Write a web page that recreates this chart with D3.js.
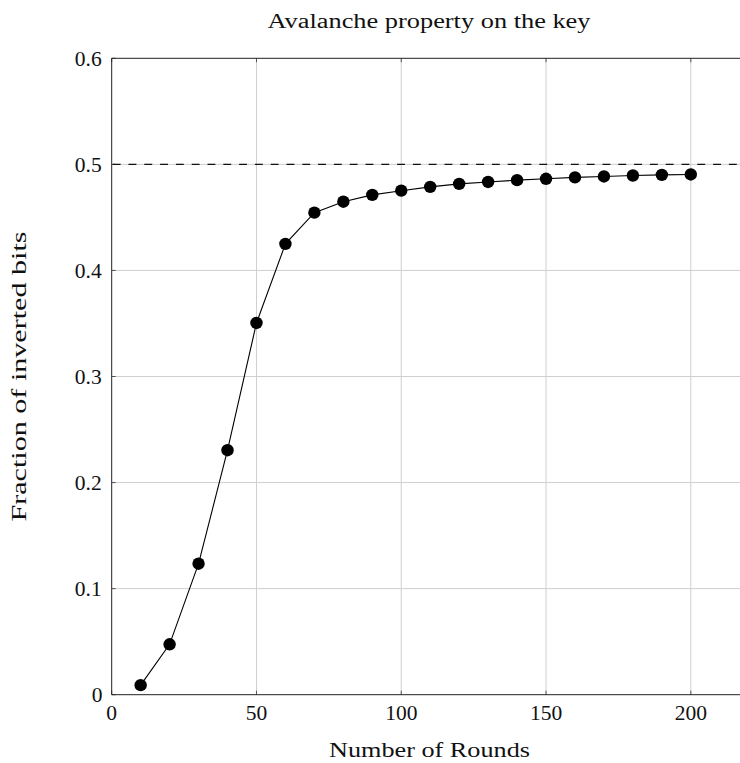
<!DOCTYPE html>
<html>
<head>
<meta charset="utf-8">
<script src="https://cdn.jsdelivr.net/npm/d3@7"></script>
<style>
  html, body { margin: 0; padding: 0; background: #fff; }
  svg { display: block; }
  text { font-family: "Liberation Serif", "DejaVu Serif", serif; fill: #111; }
</style>
</head>
<body>
<svg id="chart" width="740" height="763"></svg>
<script>
// Data
const rounds = [10, 20, 30, 40, 50, 60, 70, 80, 90, 100, 110, 120, 130, 140, 150, 160, 170, 180, 190, 200];
const fraction = [0.009, 0.0475, 0.1235, 0.2305, 0.3505, 0.425, 0.4545, 0.4648, 0.4712, 0.4752, 0.4788, 0.4816, 0.4834, 0.4851, 0.4864, 0.4877, 0.4886, 0.4895, 0.4901, 0.4905];
const xTicks = [0, 50, 100, 150, 200];
const yTicks = [0, 0.1, 0.2, 0.3, 0.4, 0.5, 0.6];
const refValue = 0.5;
const titleText = "Avalanche property on the key";
const xLabelText = "Number of Rounds";
const yLabelText = "Fraction of inverted bits";

(function () {
const svg = d3.select("#chart");
const pLeft = 111.7, pTop = 58.3, pBottom = 694.7;
const x = d3.scaleLinear().domain([0, 220]).range([pLeft, pLeft + 220 * 2.8955]);
const y = d3.scaleLinear().domain([0, 0.6]).range([pBottom, pTop]);
const pRight = x(220);

// grid
const grid = svg.append("g");
grid.selectAll("line.gx").data(xTicks.filter(d => d > 0)).enter().append("line")
  .attr("x1", d => x(d)).attr("x2", d => x(d)).attr("y1", pTop).attr("y2", pBottom)
  .attr("stroke", "#cfcfcf").attr("stroke-width", 1);
grid.selectAll("line.gy").data(yTicks.filter(d => d > 0 && d < 0.6)).enter().append("line")
  .attr("x1", pLeft).attr("x2", pRight).attr("y1", d => y(d)).attr("y2", d => y(d))
  .attr("stroke", "#cfcfcf").attr("stroke-width", 1);

// tick marks (inward, both sides)
const tk = svg.append("g").attr("stroke", "#555").attr("stroke-width", 1);
xTicks.forEach(d => {
  tk.append("line").attr("x1", x(d)).attr("x2", x(d)).attr("y1", pBottom).attr("y2", pBottom - 4);
  tk.append("line").attr("x1", x(d)).attr("x2", x(d)).attr("y1", pTop).attr("y2", pTop + 4);
});
yTicks.forEach(d => {
  tk.append("line").attr("x1", pLeft).attr("x2", pLeft + 4).attr("y1", y(d)).attr("y2", y(d));
});

// reference dashed line
svg.append("line")
  .attr("x1", pLeft).attr("x2", pRight).attr("y1", y(refValue)).attr("y2", y(refValue))
  .attr("stroke", "#111").attr("stroke-width", 1.1)
  .attr("stroke-dasharray", "7.9,7.9").attr("stroke-dashoffset", -1);

// axis frame
svg.append("line").attr("x1", pLeft).attr("x2", pRight).attr("y1", pTop).attr("y2", pTop)
  .attr("stroke", "#222").attr("stroke-width", 1);
svg.append("line").attr("x1", pLeft).attr("x2", pRight).attr("y1", pBottom).attr("y2", pBottom)
  .attr("stroke", "#222").attr("stroke-width", 1);
svg.append("line").attr("x1", pLeft).attr("x2", pLeft).attr("y1", pTop).attr("y2", pBottom)
  .attr("stroke", "#222").attr("stroke-width", 1);

// tick labels
svg.selectAll("text.xt").data(xTicks).enter().append("text")
  .attr("x", d => x(d)).attr("y", 719.5)
  .attr("text-anchor", "middle").attr("font-size", 21.5)
  .text(d => d);
svg.selectAll("text.yt").data(yTicks).enter().append("text")
  .attr("x", d => d === 0 ? 102.5 : 101.7).attr("y", d => y(d) + 7.5)
  .attr("text-anchor", "end").attr("font-size", 21.5)
  .text(d => d === 0 ? "0" : d.toFixed(1));

// series
const pts = rounds.map((r, i) => [r, fraction[i]]);
svg.append("path").datum(pts)
  .attr("fill", "none").attr("stroke", "#000").attr("stroke-width", 1.1)
  .attr("d", d3.line().x(d => x(d[0])).y(d => y(d[1])));
svg.selectAll("circle.pt").data(pts).enter().append("circle")
  .attr("cx", d => x(d[0])).attr("cy", d => y(d[1])).attr("r", 6.2)
  .attr("fill", "#000");

// titles
svg.append("text").attr("x", 429).attr("y", 27.5).attr("text-anchor", "middle")
  .attr("font-size", 20).attr("textLength", 323).attr("lengthAdjust", "spacingAndGlyphs")
  .text(titleText);
svg.append("text").attr("x", 429.5).attr("y", 756.5).attr("text-anchor", "middle")
  .attr("font-size", 21).attr("textLength", 201).attr("lengthAdjust", "spacingAndGlyphs")
  .text(xLabelText);
svg.append("text").attr("transform", "translate(25.5,376.5) rotate(-90)").attr("text-anchor", "middle")
  .attr("font-size", 21).attr("textLength", 290).attr("lengthAdjust", "spacingAndGlyphs")
  .text(yLabelText);
})();
</script>
</body>
</html>
